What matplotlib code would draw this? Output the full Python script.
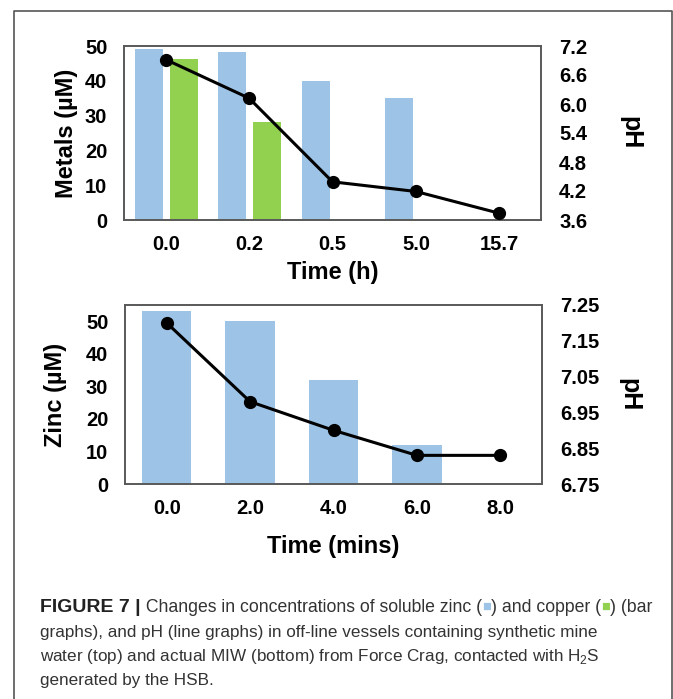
"""Force Crag figure 7: metals / zinc bars with pH lines on a twin axis."""
import matplotlib
matplotlib.use("Agg")
import matplotlib.pyplot as plt
from matplotlib.lines import Line2D

# Top panel (synthetic mine water)
top_times = ["0.0", "0.2", "0.5", "5.0", "15.7"]
top_zinc = [49, 48.2, 40, 35, 0]
top_copper = [46.2, 28.1, 0, 0, 0]
top_ph = [6.92, 6.12, 4.39, 4.19, 3.74]

# Bottom panel (actual MIW)
bot_times = ["0.0", "2.0", "4.0", "6.0", "8.0"]
bot_zinc = [53.1, 50.0, 31.9, 12.0, 0]
bot_ph = [7.20, 6.98, 6.90, 6.83, 6.83]

top_left_ticks = [0, 10, 20, 30, 40, 50]
top_right_ticks = [3.6, 4.2, 4.8, 5.4, 6.0, 6.6, 7.2]
bot_left_ticks = [0, 10, 20, 30, 40, 50]
bot_right_ticks = [6.75, 6.85, 6.95, 7.05, 7.15, 7.25]

BLUE = "#9dc3e6"
GREEN = "#92d050"
SPINE = "#595959"
BOLDFONT = ["Liberation Sans", "DejaVu Sans"]
CAPTION = ["Liberation Sans", "DejaVu Sans"]

plt.rcParams["mathtext.fontset"] = "custom"
plt.rcParams["mathtext.rm"] = "Liberation Sans"

W, H = 673, 699
fig = plt.figure(figsize=(W / 100, H / 100), dpi=100)


def style_axes(ax, ax2, xlabels, lticks, rticks, rfmt):
    for a in (ax, ax2):
        for s in a.spines.values():
            s.set_color(SPINE)
            s.set_linewidth(1.2)
    ax.set_xticks(range(len(xlabels)))
    ax.set_xticklabels(xlabels)
    ax.set_xlim(-0.5, len(xlabels) - 0.5)
    ax.set_yticks(lticks)
    ax2.set_yticks(rticks)
    ax2.set_yticklabels([rfmt.format(v) for v in rticks])
    ax.tick_params(axis="both", length=0, labelsize=14.5)
    ax.tick_params(axis="x", pad=11)
    ax.tick_params(axis="y", pad=12)
    ax2.tick_params(axis="y", length=0, labelsize=14.5, pad=13)
    for lab in ax.get_xticklabels() + ax.get_yticklabels() + ax2.get_yticklabels():
        lab.set_family(BOLDFONT)
        lab.set_fontweight("bold")


# ---- top panel
ax1 = fig.add_axes([124 / W, 1 - 220 / H, 417 / W, 174 / H])
ax1b = ax1.twinx()
x = range(len(top_times))
ax1.bar([i - 0.2 for i in x], top_zinc, width=0.336, color=BLUE, zorder=2)
ax1.bar([i + 0.22 for i in x], top_copper, width=0.336, color=GREEN, zorder=2)
ax1.set_ylim(0, 50)
ax1b.plot(list(x), top_ph, color="black", lw=2.2, marker="o", ms=8.5, zorder=3)
ax1b.set_ylim(3.6, 7.2)
style_axes(ax1, ax1b, top_times, top_left_ticks, top_right_ticks, "{:.1f}")
ax1.set_xlabel("Time (h)", family=BOLDFONT, fontweight="bold", fontsize=17, labelpad=5)
ax1.set_ylabel("Metals (\u00b5M)", family=BOLDFONT, fontweight="bold", fontsize=17, labelpad=5)
ax1b.set_ylabel("pH", family=BOLDFONT, fontweight="bold", fontsize=18, rotation=270, labelpad=40)

# ---- bottom panel
ax2 = fig.add_axes([125 / W, 1 - 484 / H, 417 / W, 179 / H])
ax2b = ax2.twinx()
x = range(len(bot_times))
ax2.bar(list(x), bot_zinc, width=0.59, color=BLUE, zorder=2)
ax2.set_ylim(0, 55)
ax2b.plot(list(x), bot_ph, color="black", lw=2.2, marker="o", ms=8.5, zorder=3)
ax2b.set_ylim(6.75, 7.25)
style_axes(ax2, ax2b, bot_times, bot_left_ticks, bot_right_ticks, "{:.2f}")
ax2.set_xlabel("Time (mins)", family=BOLDFONT, fontweight="bold", fontsize=17, labelpad=12)
ax2.set_ylabel("Zinc (\u00b5M)", family=BOLDFONT, fontweight="bold", fontsize=17, labelpad=14)
ax2b.set_ylabel("pH", family=BOLDFONT, fontweight="bold", fontsize=18, rotation=270, labelpad=30)

# ---- open frame round the figure
fig.add_artist(Line2D([14 / W, 14 / W, 672 / W, 672 / W], [0, 1 - 11 / H, 1 - 11 / H, 0],
                      transform=fig.transFigure, color="#555555", lw=1.2))

# ---- caption, pieces laid out one after another
caption_lines = [
    [("FIGURE 7 |", "bold", "#222222", 14),
     (" Changes in concentrations of soluble zinc (", "normal", "#333333", 12.7),
     ("\u25a0", "normal", BLUE, 10.5),
     (") and copper (", "normal", "#333333", 12.7),
     ("\u25a0", "normal", GREEN, 10.5),
     (") (bar", "normal", "#333333", 12.7)],
    [("graphs), and pH (line graphs) in off-line vessels containing synthetic mine", "normal", "#333333", 12.3)],
    [("water (top) and actual MIW (bottom) from Force Crag, contacted with H$_2$S", "normal", "#333333", 12.3)],
    [("generated by the HSB.", "normal", "#333333", 12.3)],
]
caption_y = [607, 632, 656, 680]

renderer = fig.canvas.get_renderer()
for pieces, yy in zip(caption_lines, caption_y):
    xpos = 40
    for txt, weight, col, size in pieces:
        t = fig.text(xpos / W, 1 - yy / H, txt, fontsize=size, fontweight=weight,
                     color=col, family=CAPTION, va="center", ha="left")
        xpos += t.get_window_extent(renderer).width

fig.savefig("out.png", dpi=100)
